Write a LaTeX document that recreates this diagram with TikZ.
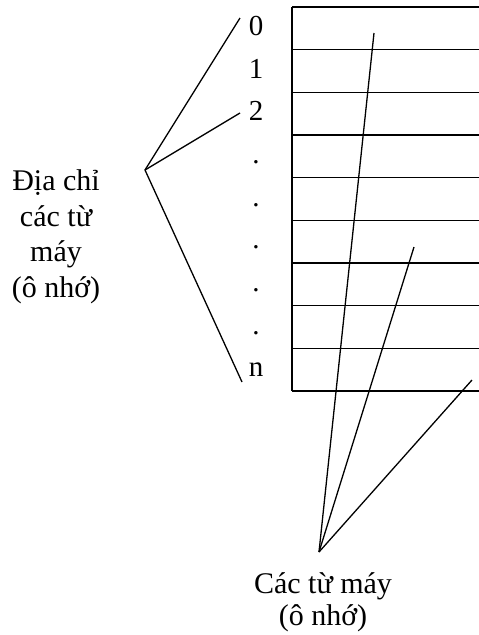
\documentclass[tikz,border=0pt]{standalone}
\usepackage{fontspec}
\setmainfont{Liberation Serif}
\begin{document}
\begin{tikzpicture}[x=1pt,y=-1pt,
  ln/.style={line width=1.3pt},
  lbl/.style={anchor=base,inner sep=0pt,font=\fontsize{29}{32}\selectfont},
  txt/.style={anchor=base,inner sep=0pt,align=center,font=\fontsize{30}{32}\selectfont}]
\useasboundingbox (0,0) rectangle (479,635);
% grid
\draw[ln] (292,7) -- (292,391);
\foreach \i in {0,...,9} {
  \draw[ln] (292,{7+42.67*\i}) -- (479,{7+42.67*\i});
}
% row labels
\foreach \t [count=\i from 0] in {0,1,2,.,.,.,.,.,n} {
  \node[lbl] (l\i) at (256,{7+42.67*(\i+0.5)+7}) {\t};
}
% left text
\node[txt,font=\fontsize{30}{35.5}\selectfont] (addr) at (56,297) {Địa chỉ\\các từ\\máy\\(ô nhớ)};
\coordinate (ap) at (145,170);
\coordinate (e0) at (240,18);
\coordinate (e2) at (240,113);
\coordinate (en) at (242,382);
\draw[ln] (e0) -- (ap) -- (en);
\draw[ln] (ap) -- (e2);
% bottom text
\node[txt] (words) at (323,625) {Các từ máy\\(ô nhớ)};
\coordinate (bp) at (319,552);
\coordinate (w1) at (374,33);
\coordinate (w2) at (414,247);
\coordinate (w3) at (472,380);
\draw[ln] (bp) -- (w1);
\draw[ln] (bp) -- (w2);
\draw[ln] (bp) -- (w3);
\end{tikzpicture}
\end{document}
